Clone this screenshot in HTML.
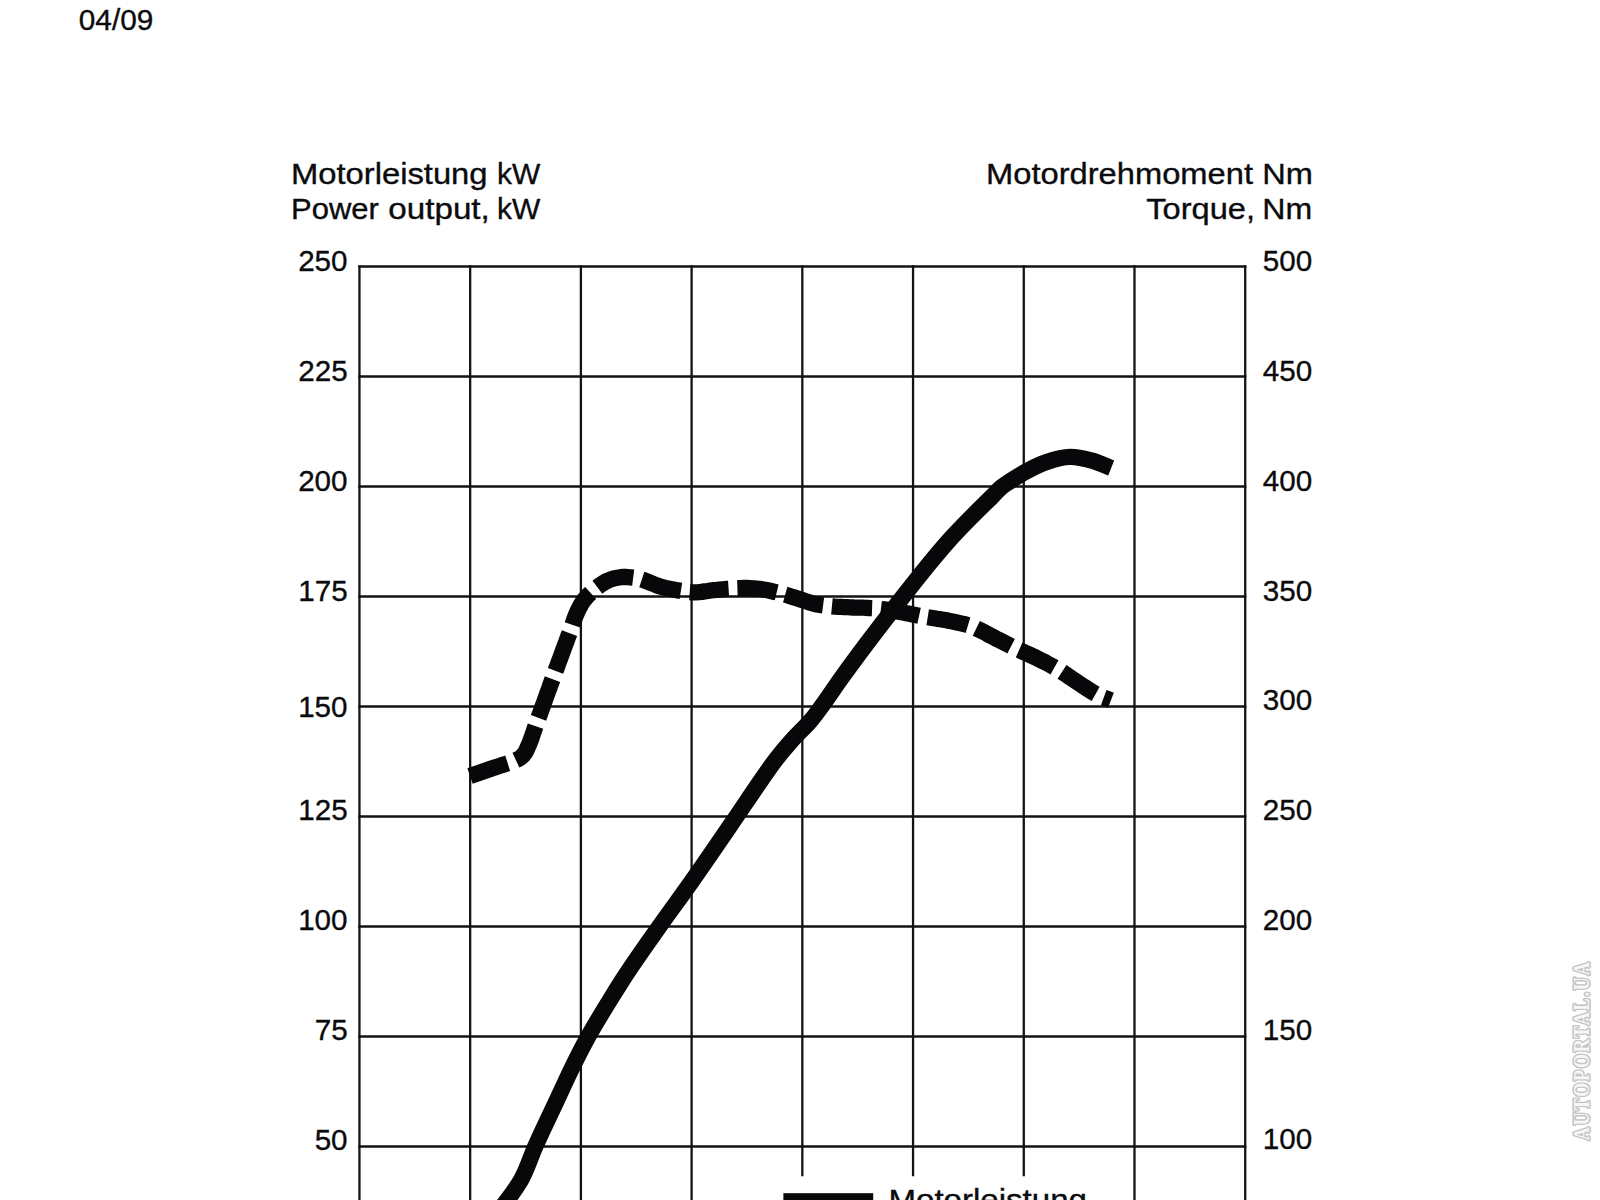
<!DOCTYPE html>
<html lang="de"><head><meta charset="utf-8"><title>Motorleistung / Motordrehmoment</title>
<style>
html,body{margin:0;padding:0;background:#fff;}
body{width:1600px;height:1200px;overflow:hidden;position:relative;font-family:"Liberation Sans",sans-serif;}
svg{position:absolute;left:0;top:0;display:block;}
text{font-family:"Liberation Sans",sans-serif;font-size:29.5px;fill:#0b0b0e;stroke:#0b0b0e;stroke-width:0.35;}
.g line{stroke:#131316;stroke-width:2.3;}
.c{fill:none;stroke:#08080b;stroke-width:16.3;stroke-linejoin:round;}
text.wm{font-family:"Liberation Serif",serif;font-weight:bold;font-size:22.6px;fill:#f7f7f7;stroke:#c4c4c4;stroke-width:3.3;stroke-linejoin:round;paint-order:stroke fill;}
</style></head><body>
<svg width="1600" height="1200" viewBox="0 0 1600 1200">
<text x="290.98" y="183.6" textLength="196.56" lengthAdjust="spacingAndGlyphs">Motorleistung</text>
<text x="496.95" y="183.6" textLength="43.28" lengthAdjust="spacingAndGlyphs">kW</text>
<text x="291.13" y="219.4" textLength="87.71" lengthAdjust="spacingAndGlyphs">Power</text>
<text x="388.28" y="219.4" textLength="101.54" lengthAdjust="spacingAndGlyphs">output,</text>
<text x="496.95" y="219.4" textLength="43.28" lengthAdjust="spacingAndGlyphs">kW</text>
<text x="985.99" y="183.6" textLength="266.98" lengthAdjust="spacingAndGlyphs">Motordrehmoment</text>
<text x="1262.30" y="183.6" textLength="50.68" lengthAdjust="spacingAndGlyphs">Nm</text>
<text x="1146.24" y="219.4" textLength="108.82" lengthAdjust="spacingAndGlyphs">Torque,</text>
<text x="1262.34" y="219.4" textLength="49.91" lengthAdjust="spacingAndGlyphs">Nm</text>
<g class="g">
<line x1="359.45" y1="265.35" x2="359.45" y2="1200"/>
<line x1="470.17" y1="265.35" x2="470.17" y2="1200"/>
<line x1="580.89" y1="265.35" x2="580.89" y2="1200"/>
<line x1="691.61" y1="265.35" x2="691.61" y2="1200"/>
<line x1="802.33" y1="265.35" x2="802.33" y2="1176.2"/>
<line x1="913.05" y1="265.35" x2="913.05" y2="1176.2"/>
<line x1="1023.77" y1="265.35" x2="1023.77" y2="1176.2"/>
<line x1="1134.49" y1="265.35" x2="1134.49" y2="1200"/>
<line x1="1245.21" y1="265.35" x2="1245.21" y2="1200"/>
<line x1="358.30" y1="266.50" x2="1246.36" y2="266.50"/>
<line x1="358.30" y1="376.50" x2="1246.36" y2="376.50"/>
<line x1="358.30" y1="486.50" x2="1246.36" y2="486.50"/>
<line x1="358.30" y1="596.50" x2="1246.36" y2="596.50"/>
<line x1="358.30" y1="706.50" x2="1246.36" y2="706.50"/>
<line x1="358.30" y1="816.50" x2="1246.36" y2="816.50"/>
<line x1="358.30" y1="926.50" x2="1246.36" y2="926.50"/>
<line x1="358.30" y1="1036.50" x2="1246.36" y2="1036.50"/>
<line x1="358.30" y1="1146.50" x2="1246.36" y2="1146.50"/>
</g>
<text x="298.15" y="271.4" style="font-size:30.3px" textLength="49.44" lengthAdjust="spacingAndGlyphs">250</text>
<text x="298.23" y="381.2" style="font-size:30.3px" textLength="49.44" lengthAdjust="spacingAndGlyphs">225</text>
<text x="298.15" y="491.0" style="font-size:30.3px" textLength="49.44" lengthAdjust="spacingAndGlyphs">200</text>
<text x="298.23" y="600.8" style="font-size:30.3px" textLength="49.44" lengthAdjust="spacingAndGlyphs">175</text>
<text x="298.15" y="717.4" style="font-size:30.3px" textLength="49.44" lengthAdjust="spacingAndGlyphs">150</text>
<text x="298.23" y="820.4" style="font-size:30.3px" textLength="49.44" lengthAdjust="spacingAndGlyphs">125</text>
<text x="298.15" y="930.2" style="font-size:30.3px" textLength="49.44" lengthAdjust="spacingAndGlyphs">100</text>
<text x="314.71" y="1040.0" style="font-size:30.3px" textLength="32.96" lengthAdjust="spacingAndGlyphs">75</text>
<text x="314.63" y="1149.8" style="font-size:30.3px" textLength="32.96" lengthAdjust="spacingAndGlyphs">50</text>
<text x="1262.85" y="271.4" style="font-size:30.3px" textLength="49.44" lengthAdjust="spacingAndGlyphs">500</text>
<text x="1262.85" y="381.1" style="font-size:30.3px" textLength="49.44" lengthAdjust="spacingAndGlyphs">450</text>
<text x="1262.85" y="490.9" style="font-size:30.3px" textLength="49.44" lengthAdjust="spacingAndGlyphs">400</text>
<text x="1262.85" y="600.6" style="font-size:30.3px" textLength="49.44" lengthAdjust="spacingAndGlyphs">350</text>
<text x="1262.85" y="710.4" style="font-size:30.3px" textLength="49.44" lengthAdjust="spacingAndGlyphs">300</text>
<text x="1262.85" y="820.1" style="font-size:30.3px" textLength="49.44" lengthAdjust="spacingAndGlyphs">250</text>
<text x="1262.85" y="929.9" style="font-size:30.3px" textLength="49.44" lengthAdjust="spacingAndGlyphs">200</text>
<text x="1262.85" y="1039.7" style="font-size:30.3px" textLength="49.44" lengthAdjust="spacingAndGlyphs">150</text>
<text x="1262.85" y="1149.4" style="font-size:30.3px" textLength="49.44" lengthAdjust="spacingAndGlyphs">100</text>
<text x="78.81" y="29.8" style="font-size:30.3px" textLength="74.46" lengthAdjust="spacingAndGlyphs">04/09</text>
<path class="c" d="M497.0,1213.0C500.5,1208.7 504.1,1204.4 507.4,1200.0C512.2,1193.5 517.0,1187.0 521.0,1180.0C527.1,1169.3 530.5,1157.3 535.5,1146.0C542.4,1130.5 549.8,1115.3 557.0,1100.0C561.7,1090.0 566.2,1079.9 571.0,1070.0C576.6,1058.5 582.3,1047.2 588.5,1036.0C595.3,1023.8 602.7,1011.9 610.0,1000.0C614.1,993.3 618.3,986.6 622.5,980.0C634.1,961.9 646.6,944.5 659.0,927.0C669.6,911.9 680.7,897.1 691.3,882.0C706.7,860.2 721.7,838.1 736.8,816.0C745.0,804.0 753.0,791.9 761.3,780.0C766.0,773.3 770.5,766.5 775.5,760.0C780.8,753.1 786.4,746.5 792.2,740.0C798.3,733.1 805.3,727.1 811.2,720.0C814.9,715.6 818.3,710.8 821.7,706.2C828.0,697.6 833.8,688.7 840.0,680.0C860.2,651.6 881.5,624.0 903.0,596.6C912.7,584.3 922.3,572.0 932.3,560.0C937.9,553.3 943.6,546.5 949.4,540.0C963.2,524.5 978.3,510.2 993.0,495.6C995.8,492.8 998.4,489.7 1001.5,487.2C1004.0,485.1 1006.8,483.4 1009.5,481.6C1014.2,478.4 1019.0,475.4 1024.0,472.6C1031.1,468.7 1038.3,464.8 1046.0,462.2C1053.8,459.5 1061.8,456.9 1070.0,456.8C1077.4,456.7 1084.8,458.6 1092.0,460.6C1098.6,462.5 1104.8,465.5 1111.2,468.0"/>
<path class="c" d="M470.0,776.0 472.9,775.0 475.8,774.0 478.7,773.0 481.6,772.0 484.5,771.0 487.4,770.0 490.2,769.0 493.1,768.0 496.0,767.1 498.9,766.1 501.8,765.1 504.8,764.2 507.7,763.3M515.9,760.2 518.7,758.9 521.3,757.1 523.5,754.9 525.4,752.3 526.8,749.6 528.0,746.7 529.3,743.8 530.4,740.9 531.5,738.0 532.5,735.0 533.5,732.1 534.5,729.1 535.5,726.1M538.5,717.9 539.6,714.9 540.7,711.9 541.7,708.9 542.8,706.0 543.9,703.0 545.0,700.0 546.0,697.0 547.1,694.0 548.2,691.0 549.3,688.1 550.3,685.1 551.4,682.1 552.5,679.1M555.5,670.9 556.6,668.0 557.7,665.1 558.7,662.2 559.8,659.3 560.9,656.4 562.0,653.4 563.0,650.5 564.1,647.6 565.2,644.7 566.3,641.8 567.3,638.9 568.4,636.0 569.5,633.1M572.4,624.8 573.4,621.9 574.4,619.0 575.5,616.0 576.7,613.2 578.0,610.4 579.4,607.6 580.9,604.8 582.5,602.2 584.3,599.6 586.3,597.3 588.4,595.0 590.7,592.9M597.4,587.2 599.9,585.3 602.6,583.5 605.3,581.8 608.2,580.5 611.2,579.3 614.2,578.4 617.3,577.7 620.5,577.2 623.6,577.0 626.8,577.0 630.0,577.3 633.2,577.7M641.8,579.6 644.8,580.6 647.7,581.7 650.6,582.9 653.5,584.0 656.5,585.2 659.4,586.2 662.4,587.1 665.5,587.9 668.6,588.6 671.6,589.2 674.7,589.8 677.8,590.4 680.9,590.9M689.7,592.1 692.7,592.3 695.7,592.4 698.7,592.2 701.7,591.9 704.7,591.4 707.6,591.0 710.6,590.5 713.6,590.1 716.6,589.9 719.6,589.6 722.6,589.3 725.6,589.0 728.6,588.8M737.4,588.2 740.4,588.1 743.5,588.0 746.6,588.0 749.6,588.1 752.7,588.3 755.7,588.5 758.8,588.8 761.8,589.2 764.8,589.7 767.8,590.3 770.8,591.0 773.8,591.7 776.7,592.4M785.2,594.7 788.1,595.5 791.0,596.5 793.9,597.4 796.8,598.3 799.7,599.2 802.6,600.1 805.5,601.1 808.4,602.1 811.3,603.0 814.2,603.8 817.1,604.5 820.1,605.0 823.1,605.4M831.9,606.4 835.0,606.7 838.1,606.8 841.2,606.9 844.3,607.1 847.3,607.2 850.4,607.3 853.5,607.5 856.6,607.6 859.7,607.6 862.8,607.7 865.9,607.8 869.0,608.0 872.1,608.1M880.9,609.0 884.1,609.4 887.3,609.9 890.5,610.4 893.7,610.9 896.9,611.5 900.0,612.0 903.2,612.6 906.4,613.2 909.6,613.8 912.7,614.5 915.9,615.1 919.1,615.8M927.7,617.3 930.9,617.8 934.0,618.3 937.1,618.8 940.2,619.2 943.4,619.7 946.5,620.3 949.6,620.9 952.7,621.6 955.8,622.2 958.8,622.9 961.9,623.6 965.0,624.3 968.0,625.2M976.3,628.3 979.0,629.6 981.7,630.9 984.4,632.3 987.0,633.8 989.6,635.2 992.3,636.6 995.0,638.0 997.7,639.4 1000.4,640.7 1003.1,642.1 1005.8,643.5 1008.4,644.8 1011.1,646.2M1019.1,650.0 1021.8,651.2 1024.6,652.5 1027.4,653.7 1030.2,655.0 1032.9,656.2 1035.7,657.5 1038.4,658.9 1041.1,660.3 1043.8,661.6 1046.5,663.0 1049.2,664.5 1051.8,665.9 1054.5,667.4M1062.0,671.9 1064.6,673.6 1067.2,675.3 1069.7,677.1 1072.3,678.9 1074.8,680.6 1077.4,682.3 1080.0,684.0 1082.6,685.7 1085.2,687.4 1087.8,689.1 1090.4,690.8 1093.0,692.4 1095.7,693.9M1103.7,697.6 1107.3,698.9 1110.9,700.3"/>
<rect x="783.4" y="1193.2" width="89.8" height="10" fill="#08080b"/>
<text x="888.46" y="1210.1" textLength="198.50" lengthAdjust="spacingAndGlyphs">Motorleistung</text>
<g transform="translate(1588.9,1140.2) rotate(-90) scale(0.8,1)"><text class="wm" x="0" y="0" textLength="222.5" lengthAdjust="spacing">AUTOPORTAL.UA</text></g>
</svg>
</body></html>
